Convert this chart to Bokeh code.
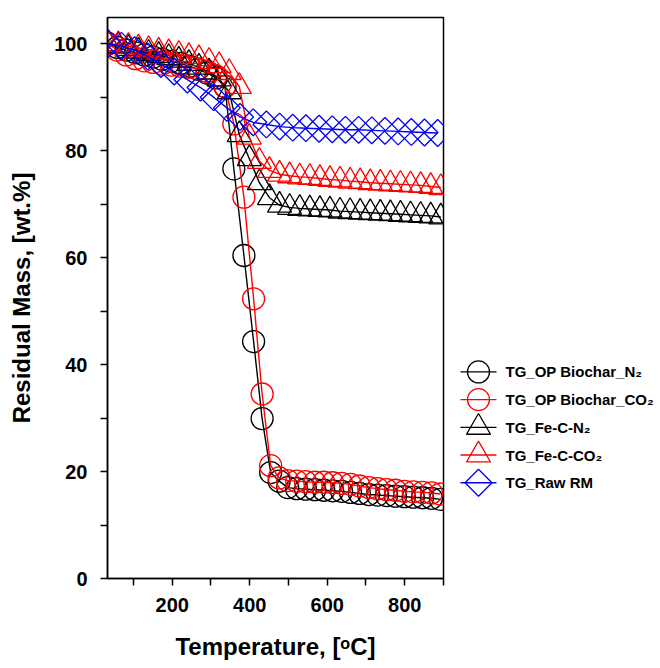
import numpy as np
from bokeh.plotting import figure
from bokeh.models import Range1d, FixedTicker
from bokeh.layouts import row
from bokeh.core.properties import value
from bokeh.embed import file_html
from bokeh.resources import INLINE

# ---------------- data ----------------
temp_circle = [35, 58, 81, 105, 128, 151, 174, 197, 221, 244, 267, 290, 313, 336,
               359, 385, 410, 432, 454, 476, 498, 521, 544, 568, 591, 614, 637,
               660, 683, 707, 730, 753, 776, 799, 822, 846, 869, 892]
op_biochar_n2 = [100.0, 99.3, 98.8, 98.3, 97.9, 97.5, 97.1, 96.7, 96.3, 95.8, 95.2,
                 94.5, 93.6, 92.0, 76.6, 60.4, 44.3, 29.9, 19.8, 18.2, 17.0, 16.8,
                 16.7, 16.6, 16.5, 16.4, 16.3, 16.1, 15.9, 15.7, 15.6, 15.5, 15.4,
                 15.3, 15.2, 15.1, 15.0, 14.8]
op_biochar_co2 = [100.0, 98.8, 97.9, 97.2, 96.8, 96.5, 96.2, 96.0, 95.8, 95.6, 95.3,
                  94.8, 94.0, 92.0, 85.0, 71.3, 52.3, 34.5, 21.1, 18.8, 18.3, 18.2,
                  18.1, 18.0, 18.0, 17.9, 17.8, 17.6, 17.3, 17.0, 16.8, 16.6, 16.5,
                  16.3, 16.2, 16.1, 16.0, 15.8]

temp_triangle = [35, 61, 87, 113, 139, 165, 191, 217, 243, 269, 295, 321, 347, 373,
                 399, 425, 451, 477, 503, 529, 555, 581, 607, 633, 659, 685, 711,
                 737, 763, 789, 815, 841, 867, 893]
fe_c_n2 = [100.0, 99.6, 99.1, 98.6, 98.2, 97.8, 97.4, 96.9, 96.3, 95.6, 94.7, 93.4,
           91.0, 83.0, 78.5, 74.0, 71.2, 69.8, 69.4, 69.2, 69.1, 69.0, 68.9, 68.7,
           68.6, 68.5, 68.4, 68.3, 68.2, 68.1, 68.0, 67.9, 67.8, 67.6]
fe_c_co2 = [100.0, 99.8, 99.5, 99.2, 98.9, 98.6, 98.3, 98.0, 97.6, 97.2, 96.7, 95.9,
            94.6, 92.0, 82.5, 78.0, 76.3, 75.6, 75.3, 75.1, 75.0, 74.8, 74.6, 74.5,
            74.3, 74.2, 74.0, 73.9, 73.8, 73.7, 73.6, 73.5, 73.3, 73.1]

temp_diamond = [35, 69, 103, 137, 171, 205, 239, 273, 307, 341, 375, 409, 443, 477,
                511, 545, 579, 613, 647, 681, 715, 749, 783, 817, 851, 885]
raw_rm = [100.0, 99.6, 98.8, 97.6, 96.2, 94.8, 93.3, 91.8, 90.0, 88.0, 86.3, 85.3,
          84.9, 84.5, 84.3, 84.2, 84.1, 84.0, 83.9, 83.9, 83.8, 83.7, 83.6, 83.5,
          83.4, 83.3]

x_ticks = [200, 400, 600, 800]
x_minor_ticks = [100, 300, 500, 700, 900]
y_ticks = [0, 20, 40, 60, 80, 100]
y_minor_ticks = [10, 30, 50, 70, 90]

labels = ["TG_OP Biochar_N\u2082", "TG_OP Biochar_CO\u2082", "TG_Fe-C-N\u2082",
          "TG_Fe-C-CO\u2082", "TG_Raw RM"]

BLACK = "#000000"
RED = "#ff0000"
BLUE = "#0000ff"
FONT = "Liberation Sans"

series = [
    (temp_circle, op_biochar_n2, BLACK, "circle", 22, 0.0),
    (temp_circle, op_biochar_co2, RED, "circle", 22, 0.0),
    (temp_triangle, fe_c_n2, BLACK, "triangle", 24, 0.0),
    (temp_triangle, fe_c_co2, RED, "triangle", 24, 0.0),
    (temp_diamond, raw_rm, BLUE, "square", 19, np.pi / 4),
]

# ---------------- main plot ----------------
p = figure(width=455, height=668, x_range=Range1d(33, 900), y_range=Range1d(0, 104.9),
           toolbar_location=None, output_backend="svg",
           min_border_left=107, min_border_right=12, min_border_top=17,
           min_border_bottom=90)
p.background_fill_color = "white"
p.border_fill_color = "white"
p.xgrid.visible = False
p.ygrid.visible = False
p.outline_line_color = "black"
p.outline_line_width = 1.5
p.outline_line_alpha = 1.0

for xs, ys, col, mk, sz, ang in series:
    p.line(xs, ys, line_color=col, line_width=1.4)
    p.scatter(xs, ys, marker=mk, size=sz, angle=ang, line_color=col,
              fill_alpha=0.0, line_width=1.3)

p.xaxis.ticker = FixedTicker(ticks=x_ticks, minor_ticks=x_minor_ticks)
p.yaxis.ticker = FixedTicker(ticks=y_ticks, minor_ticks=y_minor_ticks)
p.xaxis.axis_label = "Temperature, [\u1d52C]"
p.yaxis.axis_label = "Residual Mass, [wt.%]"

for ax in (p.xaxis[0], p.yaxis[0]):
    ax.axis_line_color = "black"
    ax.axis_line_width = 1.5
    ax.major_tick_in = 0
    ax.major_tick_out = 7
    ax.minor_tick_in = 0
    ax.minor_tick_out = 7
    ax.major_tick_line_color = "black"
    ax.minor_tick_line_color = "black"
    ax.major_tick_line_width = 1.5
    ax.minor_tick_line_width = 1.5
    ax.major_label_text_font = FONT
    ax.major_label_text_font_style = "bold"
    ax.major_label_text_font_size = "20px"
    ax.major_label_text_color = "black"
    ax.axis_label_text_font = FONT
    ax.axis_label_text_font_style = "bold"
    ax.axis_label_text_font_size = "24px"
    ax.axis_label_text_color = "black"

p.xaxis.major_label_standoff = 12
p.xaxis.axis_label_standoff = 18
p.yaxis.major_label_standoff = 13
p.yaxis.axis_label_standoff = 16

# ---------------- legend panel ----------------
leg = figure(width=205, height=668, x_range=Range1d(0, 205), y_range=Range1d(668, 0),
             toolbar_location=None, output_backend="svg",
             x_axis_location=None, y_axis_location=None,
             min_border_left=0, min_border_right=0, min_border_top=0, min_border_bottom=0)
leg.grid.visible = False
leg.outline_line_color = None
leg.background_fill_color = "white"
leg.border_fill_color = "white"

row_y0, row_dy = 422, 33
for i, ((xs, ys, col, mk, sz, ang), lab) in enumerate(zip(series, labels)):
    yy = row_y0 + row_dy * i
    leg.line([5, 41], [yy, yy], line_color=col, line_width=1.4)
    leg.scatter([23], [yy], marker=mk, size=sz, angle=ang, line_color=col,
                fill_alpha=0.0, line_width=1.3)
    leg.text([50], [yy], text=[lab], text_font=value(FONT), text_font_style="bold",
             text_font_size="15px", text_baseline="middle", text_align="left",
             text_color="black")

layout = row(p, leg)
open("out.html", "w").write(file_html(layout, INLINE))
